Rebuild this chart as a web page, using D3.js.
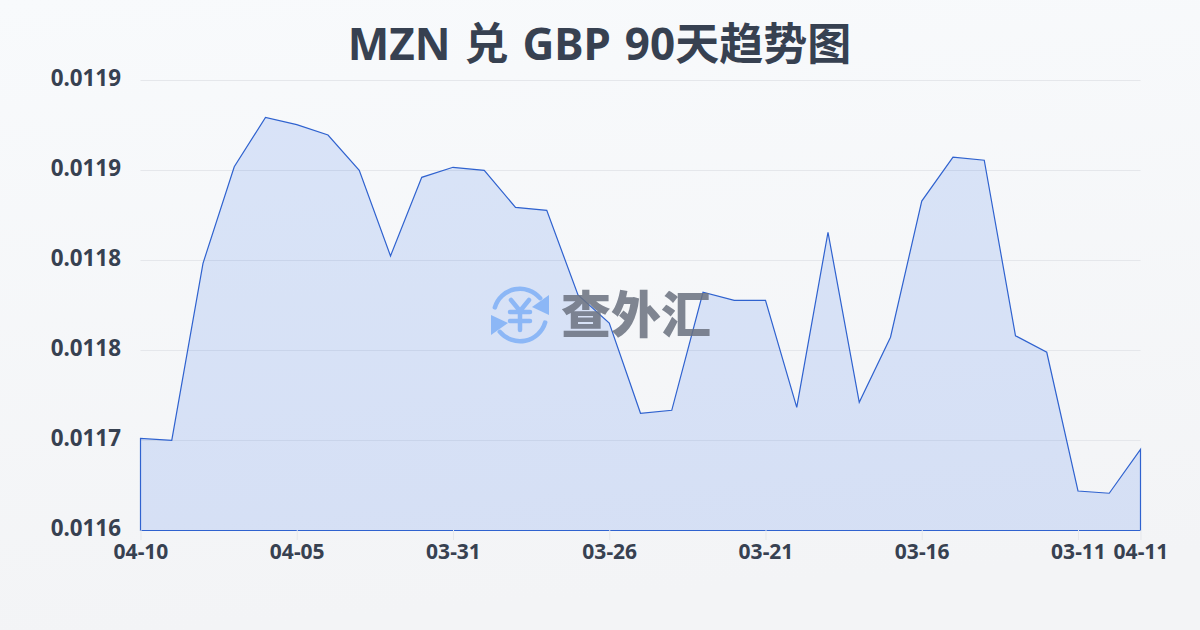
<!DOCTYPE html>
<html>
<head>
<meta charset="utf-8">
<script src="https://cdn.jsdelivr.net/npm/d3@7/dist/d3.min.js"></script>
<style>
html,body{margin:0;padding:0;width:1200px;height:630px;overflow:hidden;background:#f6f7f9}
svg{display:block}
text{font-family:"Noto Sans","Noto Sans CJK SC",sans-serif}
</style>
</head>
<body>
<svg id="chart" width="1200" height="630"></svg>
<script>
const titleText = "MZN 兑 GBP 90天趋势图";
const watermarkText = "查外汇";
const categories = ["04-10","04-09","04-08","04-07","04-06","04-05","04-04","04-03","04-02","04-01","03-31","03-30","03-29","03-28","03-27","03-26","03-25","03-24","03-23","03-22","03-21","03-20","03-19","03-18","03-17","03-16","03-15","03-14","03-13","03-12","03-11","03-10","04-11"];
const rates = [0.0117011,0.0116998,0.0118178,0.0118822,0.0119151,0.0119102,0.0119033,0.0118798,0.0118227,0.0118751,0.0118818,0.0118798,0.0118551,0.0118531,0.0117967,0.0117780,0.0117178,0.0117198,0.0117985,0.0117931,0.0117931,0.0117218,0.0118385,0.0117251,0.0117685,0.0118593,0.0118885,0.0118865,0.0117695,0.0117585,0.0116660,0.0116645,0.0116938];
const yTicks = [0.01164,0.0117,0.01176,0.01182,0.01188,0.01194];
const xTickLabels = ["04-10","04-05","03-31","03-26","03-21","03-16","03-11","04-11"];

const svg = d3.select("#chart");
const L = 140.5, R = 1140.5, T = 80, B = 530.5;
const defs = svg.append("defs");
const bg = defs.append("linearGradient").attr("id","bg").attr("x1","0").attr("y1","0").attr("x2","0.15").attr("y2","1");
bg.append("stop").attr("offset","0").attr("stop-color","#f8fafc");
bg.append("stop").attr("offset","1").attr("stop-color","#f3f4f6");
svg.append("rect").attr("width",1200).attr("height",630).attr("fill","url(#bg)");

const x = d3.scalePoint().domain(categories).range([L,R]);
const y = d3.scaleLinear().domain([yTicks[0],yTicks[yTicks.length-1]]).range([530,T]);

// grid
svg.append("g").selectAll("line").data(yTicks).join("line")
  .attr("x1",L).attr("x2",R)
  .attr("y1",d=>Math.round(y(d))+0.5).attr("y2",d=>Math.round(y(d))+0.5)
  .attr("stroke","#e5e7eb").attr("stroke-width",1);

// area with outline
const area = d3.area().x((d,i)=>x(categories[i])).y0(B).y1(d=>y(d));
const linePts = rates.map((d,i)=>[x(categories[i]),y(d)]);
const outline = "M"+L+","+B+"L"+linePts.map(p=>p.join(",")).join("L")+"L"+R+","+B+"Z";
svg.append("path").attr("d",area(rates)).attr("fill","#2563eb").attr("fill-opacity",0.14);
svg.append("path").attr("d",outline).attr("fill","none").attr("stroke","#2f62cf").attr("stroke-width",1.2).attr("stroke-linejoin","miter");

// axes
const yAxis = d3.axisLeft(y).tickValues(yTicks).tickFormat(d3.format(".4f")).tickSize(0).tickPadding(19.5);
const gy = svg.append("g").attr("transform",`translate(${L},0)`).call(yAxis);
gy.select(".domain").remove();
gy.selectAll("text").attr("font-size",22.4).attr("font-weight",700).attr("fill","#374151").attr("dy","0.24em");

const xAxis = d3.axisBottom(x).tickValues(xTickLabels).tickSize(10).tickPadding(4);
const gx = svg.append("g").attr("transform",`translate(0,530)`).call(xAxis);
gx.select(".domain").remove();
gx.selectAll("line").attr("stroke","#e5e7eb");
gx.selectAll("text").attr("font-size",21).attr("font-weight",700).attr("fill","#374151");

// title
svg.append("text").attr("x",599.5).attr("y",60).attr("text-anchor","middle")
  .attr("font-size",44).attr("font-weight",700).attr("fill","#374151")
  .attr("word-spacing",2.5).text(titleText);

// watermark
const wm = svg.append("g").attr("opacity",0.85);
const icon = wm.append("g").attr("transform","translate(520,315)");
const arc = d3.arc().innerRadius(24).outerRadius(28.5).cornerRadius(2);
const deg = Math.PI/180;
icon.append("path").attr("d",arc({startAngle:-78*deg,endAngle:55*deg})).attr("fill","#7fb0f7");
icon.append("path").attr("d",arc({startAngle:102*deg,endAngle:235*deg})).attr("fill","#7fb0f7");
icon.append("path").attr("d","M29,-20L29,0L12,-8Z").attr("fill","#7fb0f7");
icon.append("path").attr("d","M-29,20L-29,0L-12,8Z").attr("fill","#7fb0f7");
icon.append("path").attr("d","M-9,-15L0,-4L9,-15M-10,-3H10M-10,6H10M0,-4V15")
  .attr("fill","none").attr("stroke","#7fb0f7").attr("stroke-width",4.5).attr("stroke-linecap","round").attr("stroke-linejoin","round");
wm.append("text").attr("x",561).attr("y",333).attr("font-size",50).attr("font-weight",900)
  .attr("fill","#6b7280").style("font-family",'"Noto Sans CJK SC"').text(watermarkText);
</script>
</body>
</html>
